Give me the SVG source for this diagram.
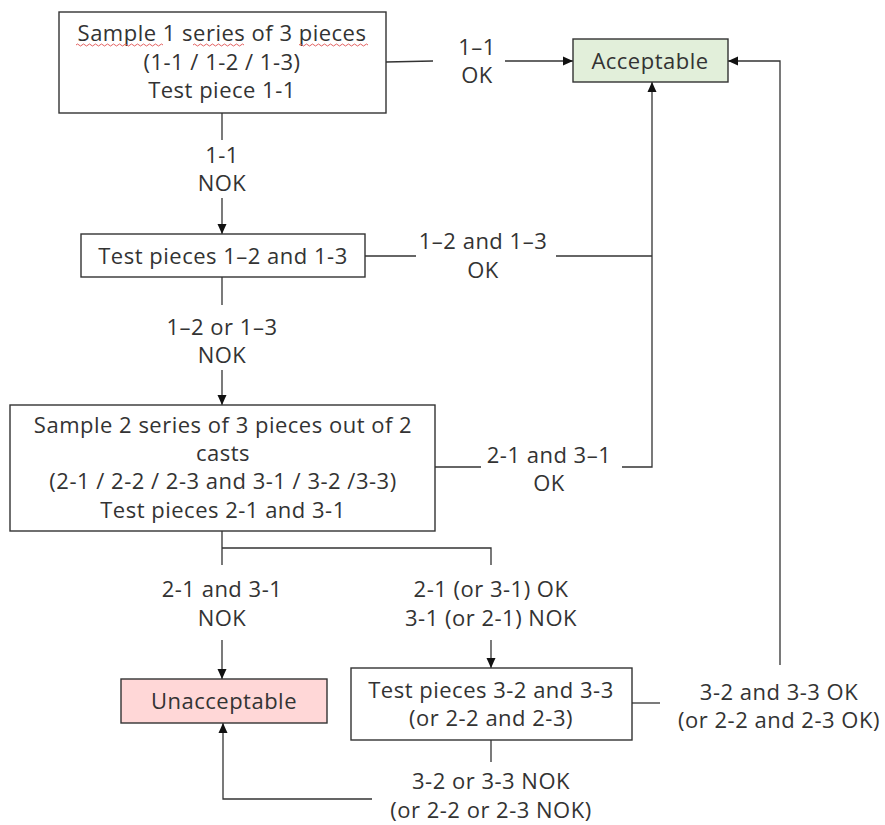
<svg xmlns="http://www.w3.org/2000/svg" width="885" height="825" viewBox="0 0 885 825">
<style>
.box{fill:#ffffff;stroke:#333333;stroke-width:1.4}
.ok{fill:#e2efda;stroke:#333333;stroke-width:1.4}
.bad{fill:#ffd7d7;stroke:#333333;stroke-width:1.4}
text{font-family:"Open Sans","Liberation Sans",sans-serif;font-size:22px;letter-spacing:0.5px;fill:#333333;text-anchor:middle}
.ln{fill:none;stroke:#333333;stroke-width:1.3}
.sq{fill:none;stroke:#e05050;stroke-width:0.9}
</style>
<defs>
<marker id="ah" markerWidth="10" markerHeight="10" refX="10" refY="5" orient="auto" markerUnits="userSpaceOnUse">
<path d="M0,0.5 L10,5 L0,9.5 Z" fill="#111111"/>
</marker>
</defs>
<rect width="885" height="825" fill="#ffffff"/>

<g id="connectors">
<path class="ln" d="M386,62 L433,61"/>
<path class="ln" d="M505,61 H573" marker-end="url(#ah)"/>
<path class="ln" d="M222,113 V140"/>
<path class="ln" d="M222,198 V234" marker-end="url(#ah)"/>
<path class="ln" d="M365,256 H416"/>
<path class="ln" d="M556,256 H652"/>
<path class="ln" d="M622,467 H652 V82" marker-end="url(#ah)"/>
<path class="ln" d="M435,467 H481"/>
<path class="ln" d="M222,277 V305"/>
<path class="ln" d="M222,370 V405" marker-end="url(#ah)"/>
<path class="ln" d="M222,531 V565 M222,548 H491 V565"/>
<path class="ln" d="M222,640 V679" marker-end="url(#ah)"/>
<path class="ln" d="M491,640 V668" marker-end="url(#ah)"/>
<path class="ln" d="M632,703 H660"/>
<path class="ln" d="M780,665 V61 H728" marker-end="url(#ah)"/>
<path class="ln" d="M491,740 V762"/>
<path class="ln" d="M372,799 H223 V723" marker-end="url(#ah)"/>
</g>

<g id="labels">
<text x="477" y="55">1–1</text>
<text x="477" y="83">OK</text>
<text x="222" y="163">1-1</text>
<text x="222" y="191">NOK</text>
<text x="483" y="249">1–2 and 1–3</text>
<text x="483" y="278">OK</text>
<text x="549" y="463">2-1 and 3–1</text>
<text x="549" y="491">OK</text>
<text x="222" y="335">1–2 or 1–3</text>
<text x="222" y="363">NOK</text>
<text x="222" y="597">2-1 and 3-1</text>
<text x="222" y="626">NOK</text>
<text x="491" y="597">2-1 (or 3-1) OK</text>
<text x="491" y="626">3-1 (or 2-1) NOK</text>
<text x="779" y="700">3-2 and 3-3 OK</text>
<text x="779" y="728">(or 2-2 and 2-3 OK)</text>
<text x="491" y="789">3-2 or 3-3 NOK</text>
<text x="491" y="818">(or 2-2 or 2-3 NOK)</text>
</g>

<g id="n-sample1">
<rect class="box" x="59" y="12" width="327" height="101"/>
<text x="222" y="41">Sample 1 series of 3 pieces</text>
<text x="222" y="70">(1-1 / 1-2 / 1-3)</text>
<text x="222" y="98">Test piece 1-1</text>
<path class="sq" d="M76,45 q1.5,-2 3,0 t3,0 t3,0 t3,0 t3,0 t3,0 t3,0 t3,0 t3,0 t3,0 t3,0 t3,0 t3,0 t3,0 t3,0 t3,0 t3,0 t3,0 t3,0 t3,0 t3,0 t3,0 t3,0 t3,0 t3,0 t3,0 t3,0 t3,0 t3,0"/>
<path class="sq" d="M193,45 q1.5,-2 3,0 t3,0 t3,0 t3,0 t3,0 t3,0 t3,0 t3,0 t3,0 t3,0 t3,0 t3,0 t3,0 t3,0 t3,0 t3,0 t3,0"/>
<path class="sq" d="M299,45 q1.5,-2 3,0 t3,0 t3,0 t3,0 t3,0 t3,0 t3,0 t3,0 t3,0 t3,0 t3,0 t3,0 t3,0 t3,0 t3,0 t3,0 t3,0 t3,0 t3,0 t3,0 t3,0 t3,0 t3,0"/>
</g>

<g id="n-acceptable">
<rect class="ok" x="573" y="39" width="155" height="43"/>
<text x="650" y="69">Acceptable</text>
</g>

<g id="n-test12">
<rect class="box" x="81" y="234" width="284" height="43"/>
<text x="223" y="264">Test pieces 1–2 and 1-3</text>
</g>

<g id="n-sample2">
<rect class="box" x="10" y="405" width="425" height="126"/>
<text x="223" y="433">Sample 2 series of 3 pieces out of 2</text>
<text x="223" y="461">casts</text>
<text x="223" y="489">(2-1 / 2-2 / 2-3 and 3-1 / 3-2 /3-3)</text>
<text x="223" y="518">Test pieces 2-1 and 3-1</text>
</g>

<g id="n-unacceptable">
<rect class="bad" x="121" y="679" width="206" height="44"/>
<text x="224" y="709">Unacceptable</text>
</g>

<g id="n-test32">
<rect class="box" x="351" y="668" width="281" height="72"/>
<text x="491" y="698">Test pieces 3-2 and 3-3</text>
<text x="491" y="726">(or 2-2 and 2-3)</text>
</g>
</svg>
